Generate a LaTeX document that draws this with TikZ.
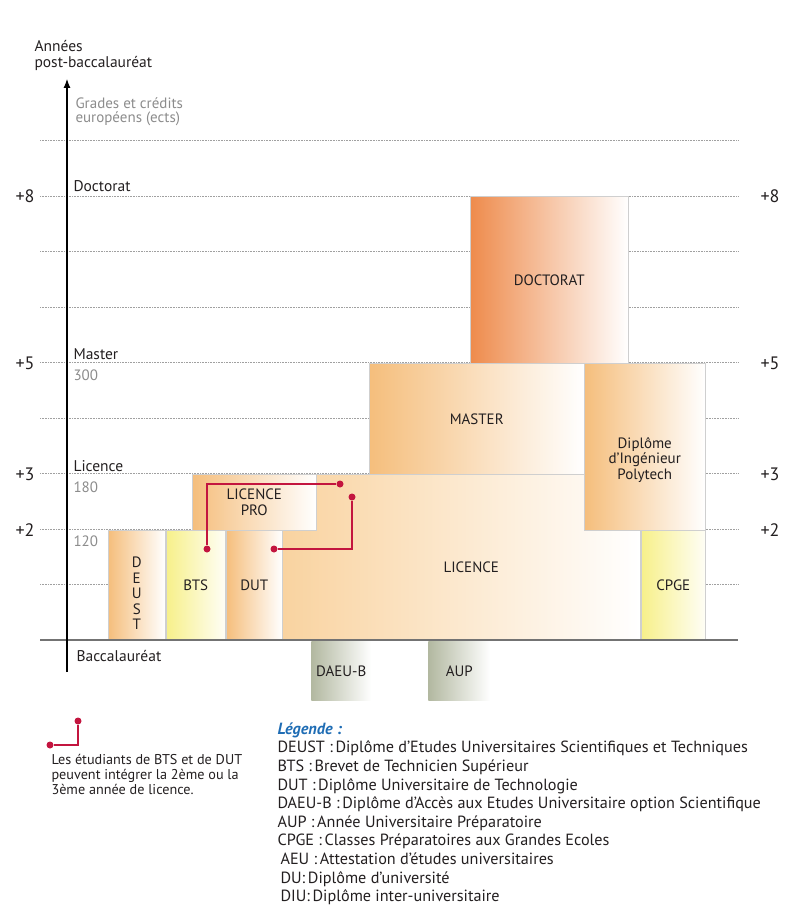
\documentclass[tikz,border=0pt]{standalone}
\usepackage{fontspec}
\setmainfont{PT Sans}
\usetikzlibrary{arrows.meta,positioning}
\definecolor{Ink}{HTML}{231F20}
\definecolor{Muted}{HTML}{8C8C8C}
\definecolor{Grid}{HTML}{A0A0A0}
\definecolor{Edge}{HTML}{CFCFCF}
\definecolor{Peach}{HTML}{F5BE7C}
\definecolor{PeachSoft}{HTML}{F9D3A0}
\definecolor{Apricot}{HTML}{EE8B4C}
\definecolor{Lemon}{HTML}{F7F08A}
\definecolor{Sage}{HTML}{B2B8A0}
\definecolor{Crimson}{HTML}{C3153F}
\definecolor{LegendBlue}{HTML}{1E6CB4}
\tikzset{
  box/.style={draw=Edge,line width=0.5pt,anchor=north west,inner sep=0pt,align=center,font=\fontsize{15}{16}\selectfont,text=Ink,right color=white},
  orangebox/.style={box,left color=Peach},
  softbox/.style={box,left color=PeachSoft},
  deepbox/.style={box,left color=Apricot},
  yellowbox/.style={box,left color=Lemon,right color=Lemon!8},
  sagebox/.style={box,draw=none,left color=Sage},
  boxtext/.style={font=\fontsize{15}{15.5}\selectfont,text=Ink,align=center},
  gridline/.style={draw=Grid,densely dotted,line width=0.6pt},
  yearlbl/.style={font=\fontsize{18}{19}\selectfont,text=Ink},
  gradelbl/.style={anchor=west,font=\fontsize{15.5}{17}\selectfont,text=Ink},
  ectslbl/.style={anchor=west,font=\fontsize{15}{16}\selectfont,text=Muted},
  path/.style={draw=Crimson,line width=1.1pt},
  dot/.style={circle,fill=Crimson,inner sep=0pt,minimum size=7pt}
}
\begin{document}
\begin{tikzpicture}[x=1pt,y=-1pt]
  \useasboundingbox (0,0) rectangle (801,915);
  % year grid
  \foreach \yr in {1,...,9}
    \draw[gridline] (40,640-55.5*\yr) -- (738,640-55.5*\yr);

  % degrees
  \node[softbox,minimum width=358pt,minimum height=166pt] (licence) at (282,474) {};
  \node[boxtext] at ([xshift=10pt,yshift=-10pt]licence.center) {LICENCE};
  \node[orangebox,minimum width=124pt,minimum height=56pt] (lpro) at (192,474) {LICENCE\\PRO};
  \node[orangebox,minimum width=215pt,minimum height=111pt] (master) at (369,363) {MASTER};
  \node[orangebox,minimum width=121pt,minimum height=167pt] (polytech) at (584,363) {};
  \node[boxtext] at ([yshift=-13pt]polytech.center) {Diplôme\\d'Ingénieur\\Polytech};
  \node[deepbox,minimum width=158pt,minimum height=167pt] (doctorat) at (470,196) {DOCTORAT};
  \node[orangebox,minimum width=57pt,minimum height=110pt] (deust) at (108,530) {};
  \node[boxtext] at ([yshift=-8pt]deust.center) {D\\E\\U\\S\\T};
  \node[yellowbox,minimum width=59pt,minimum height=110pt] (bts) at (166,530) {BTS};
  \node[orangebox,minimum width=56pt,minimum height=110pt] (dut) at (226,530) {DUT};
  \node[yellowbox,minimum width=64pt,minimum height=110pt] (cpge) at (641,530) {CPGE};
  \node[sagebox,minimum width=60pt,minimum height=59pt] (daeu) at (311,641) {DAEU-B};
  \node[sagebox,minimum width=62pt,minimum height=59pt] (aup) at (428,641) {AUP};

  % axes
  \draw[draw=black!55,line width=2pt] (40,640) -- (738,640);
  \draw[line width=1.1pt,-{Latex[length=9pt,width=7pt]}] (67,672) -- (67,79);

  % years
  \foreach \yr/\ypos in {8/196,5/363,3/474,2/530} {
    \node[yearlbl] at (25,\ypos) {+\yr};
    \node[yearlbl] at (770,\ypos) {+\yr};
  }

  % grades and ects
  \node[anchor=north west,align=left,font=\fontsize{15.5}{16}\selectfont,text=Ink] (axis) at (31,37) {Années\\post-baccalauréat};
  \node[anchor=north west,align=left,font=\fontsize{15}{14.5}\selectfont,text=Muted] (ects) at (72,94) {Grades et crédits\\européens (ects)};
  \node[gradelbl] (gdoc) at (70,186) {Doctorat};
  \node[gradelbl] (gmas) at (70,354) {Master};
  \node[ectslbl] (e300) at (70,375) {300};
  \node[gradelbl] (glic) at (70,466) {Licence};
  \node[ectslbl] (e180) at (70,487) {180};
  \node[ectslbl] (e120) at (70,541) {120};
  \node[gradelbl] (gbac) at (73,656) {Baccalauréat};

  % passerelles BTS / DUT
  \node[dot] (btsdot) at (207,549) {};
  \node[dot] (lp3dot) at (340,484) {};
  \node[dot] (dutdot) at (274,549) {};
  \node[dot] (lp2dot) at (352,497) {};
  \draw[path] (btsdot) |- (lp3dot);
  \draw[path] (dutdot) -| (lp2dot);

  % legend
  \node[dot] (keyA) at (50,745) {};
  \node[dot] (keyB) at (78,721) {};
  \draw[path] (keyA) -| (keyB);
  \node[anchor=north west,align=left,font=\fontsize{14.2}{14.8}\selectfont,text=Ink] (note) at (48,751)
    {Les étudiants de BTS et de DUT\\peuvent intégrer la 2ème ou la\\3ème année de licence.};
  \node[anchor=north west,align=left,font=\fontsize{16.2}{18.6}\selectfont,text=Ink] (legend) at (274,719)
    {{\color{LegendBlue}\bfseries\itshape Légende :}\\
     DEUST :\,Diplôme d’Etudes Universitaires Scientifiques et Techniques\\
     BTS :\,Brevet de Technicien Supérieur\\
     DUT :\,Diplôme Universitaire de Technologie\\
     DAEU-B :\,Diplôme d’Accès aux Etudes Universitaire option Scientifique\\
     AUP :\,Année Universitaire Préparatoire\\
     CPGE :\,Classes Préparatoires aux Grandes Ecoles\\
     \hspace*{3pt}AEU :\,Attestation d'études universitaires\\
     \hspace*{3pt}DU:\,Diplôme d'université\\
     \hspace*{3pt}DIU:\,Diplôme inter-universitaire};
\end{tikzpicture}
\end{document}
